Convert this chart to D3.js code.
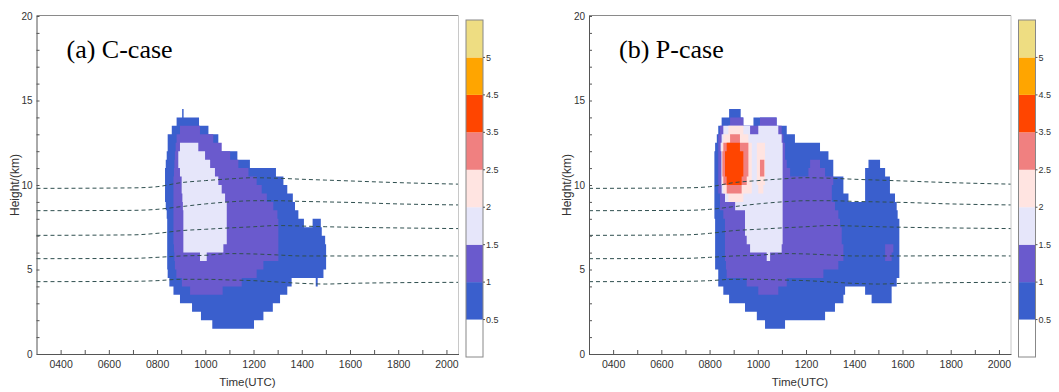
<!DOCTYPE html>
<html>
<head>
<meta charset="utf-8">
<script src="https://cdn.jsdelivr.net/npm/d3@7/dist/d3.min.js"></script>
<style>
  body { margin: 0; background: #fff; }
  svg { display: block; font-family: "Liberation Sans", Arial, sans-serif; }
</style>
</head>
<body>
<svg id="chart" width="1059" height="392"></svg>
<script>
// contour levels of the colour bar (lowest band is white)
const levelValues = [0.5, 1, 1.5, 2, 2.5, 3.5, 4.5, 5];
const levelColors = ["#ffffff", "#3a5fcd", "#6a5acd", "#e6e6fa", "#ffe4e1", "#f08080", "#ff4500", "#ffa500", "#eedd82"];

const timeTicks = [4, 5, 6, 7, 8, 9, 10, 11, 12, 13, 14, 15, 16, 17, 18, 19, 20];
const timeLabels = ["0400", "", "0600", "", "0800", "", "1000", "", "1200", "", "1400", "", "1600", "", "1800", "", "2000"];
const heightTicks = d3.range(0, 21);
const heightLabels = [0, 5, 10, 15, 20];

// filled areas, one row per 0.5 km band: [band bottom (km), start time, end time, (start, end ...)] in hours UTC
// (a) C-case
const aLevel1 = [
  [14.0, 9.04, 9.10],
  [13.5, 8.81, 9.74], [13.0, 8.61, 10.13], [12.5, 8.44, 10.54], [12.0, 8.44, 10.54],
  [11.5, 8.40, 11.33], [11.0, 8.36, 11.85], [10.5, 8.33, 12.93], [10.0, 8.33, 13.24],
  [9.5, 8.33, 13.40], [9.0, 8.33, 13.63], [8.5, 8.36, 13.72], [8.0, 8.40, 13.86],
  [7.5, 8.42, 14.09, 14.45, 14.79], [7.0, 8.42, 14.83], [6.5, 8.42, 14.97], [6.0, 8.42, 15.01],
  [5.5, 8.42, 15.01], [5.0, 8.42, 15.01], [4.5, 8.44, 14.90], [4.0, 8.51, 13.58, 14.58, 14.66],
  [3.5, 8.68, 13.40], [3.0, 8.95, 13.10], [2.5, 9.45, 12.80], [2.0, 9.82, 12.41], [1.5, 10.29, 12.02]
];
const aLevel2 = [
  [13.0, 8.95, 9.78], [12.5, 8.81, 10.33], [12.0, 8.77, 10.68], [11.5, 8.74, 11.03],
  [11.0, 8.72, 11.37], [10.5, 8.70, 11.79], [10.0, 8.68, 12.13], [9.5, 8.68, 12.34],
  [9.0, 8.68, 12.55], [8.5, 8.68, 12.82], [8.0, 8.68, 12.99], [7.5, 8.68, 13.03],
  [7.0, 8.68, 13.03], [6.5, 8.68, 13.03], [6.0, 8.70, 13.03], [5.5, 8.72, 13.03],
  [5.0, 8.74, 12.41], [4.5, 8.80, 12.13], [4.0, 9.03, 11.51], [3.5, 9.37, 10.72]
];
const aLevel3 = [
  [12.0, 8.95, 9.71], [11.5, 8.88, 9.99], [11.0, 8.88, 10.20], [10.5, 8.95, 10.40],
  [10.0, 9.02, 10.54], [9.5, 9.02, 10.68], [9.0, 9.05, 10.82], [8.5, 9.07, 10.89],
  [8.0, 9.09, 10.89], [7.5, 9.09, 10.89], [7.0, 9.09, 10.89], [6.5, 9.09, 10.89],
  [6.0, 9.09, 10.75], [5.5, 9.78, 10.06]
];

// (b) P-case
const bLevel1 = [
  [14.0, 8.81, 9.29], [13.5, 8.50, 9.40, 9.82, 10.78], [13.0, 8.36, 11.20], [12.5, 8.30, 11.54],
  [12.0, 8.23, 12.58], [11.5, 8.20, 12.93], [11.0, 8.20, 13.13, 14.59, 15.07],
  [10.5, 8.20, 13.13, 14.45, 15.28], [10.0, 8.20, 13.55, 14.45, 15.48], [9.5, 8.20, 13.55, 14.45, 15.48],
  [9.0, 8.20, 13.76, 14.45, 15.69], [8.5, 8.20, 15.76], [8.0, 8.20, 15.80], [7.5, 8.23, 15.87],
  [7.0, 8.23, 15.87], [6.5, 8.23, 15.87], [6.0, 8.23, 15.87], [5.5, 8.23, 15.87],
  [5.0, 8.23, 15.87], [4.5, 8.36, 15.87], [4.0, 8.36, 15.76], [3.5, 8.57, 13.62, 14.45, 15.55],
  [3.0, 8.81, 13.55, 14.72, 15.55], [2.5, 9.47, 13.20], [2.0, 9.96, 12.79], [1.5, 10.30, 11.13]
];
const bLevel2 = [
  [13.5, 8.85, 9.40, 10.09, 10.78], [13.0, 8.43, 10.99], [12.5, 8.36, 11.06], [12.0, 8.36, 11.13],
  [11.5, 8.36, 11.13], [11.0, 8.36, 11.20, 12.17, 12.58], [10.5, 8.36, 11.34, 12.10, 12.79],
  [10.0, 8.36, 13.13], [9.5, 8.36, 13.07], [9.0, 8.43, 13.07], [8.5, 8.43, 13.20],
  [8.0, 8.57, 13.34], [7.5, 8.64, 13.41], [7.0, 8.64, 13.48], [6.5, 8.64, 13.48],
  [6.0, 8.64, 13.55, 15.28, 15.62], [5.5, 8.64, 13.55, 15.28, 15.55], [5.0, 8.68, 13.34],
  [4.5, 8.71, 12.72], [4.0, 9.54, 11.20], [3.5, 10.02, 10.85]
];
const bLevel3 = [
  [13.0, 8.57, 9.68, 10.02, 10.85], [12.5, 8.50, 10.99], [12.0, 8.46, 11.03], [11.5, 8.50, 11.03],
  [11.0, 8.50, 11.03], [10.5, 8.50, 11.03], [10.0, 8.50, 11.03], [9.5, 8.50, 11.03],
  [9.0, 8.64, 11.03], [8.5, 9.06, 11.03], [8.0, 9.47, 11.03], [7.5, 9.47, 11.03],
  [7.0, 9.47, 11.03], [6.5, 9.54, 11.03], [6.0, 9.68, 10.99], [5.5, 10.37, 10.51]
];
const bLevel4 = [
  [13.0, 8.78, 9.40], [12.5, 8.57, 9.61], [12.0, 8.50, 9.75, 9.96, 10.30],
  [11.5, 8.50, 9.75, 9.96, 10.30], [11.0, 8.50, 9.75, 9.96, 10.30], [10.5, 8.50, 9.75, 9.96, 10.30],
  [10.0, 8.50, 9.75, 9.96, 10.30], [9.5, 8.57, 9.75, 10.02, 10.23], [9.0, 8.78, 9.40]
];
const bLevel5 = [
  [12.5, 8.85, 9.26], [12.0, 8.57, 9.61], [11.5, 8.53, 9.61], [11.0, 8.53, 9.61, 10.09, 10.27],
  [10.5, 8.53, 9.61, 10.09, 10.27], [10.0, 8.57, 9.54], [9.5, 8.71, 9.33]
];
const bLevel6 = [
  [12.0, 8.71, 9.26], [11.5, 8.64, 9.40], [11.0, 8.64, 9.40], [10.5, 8.64, 9.40], [10.0, 8.71, 9.33]
];

// dashed isolines (same in both panels), height in km at isoTimes
const isoTimes = [3, 7, 8, 9, 10, 11, 12, 13, 14, 15, 16, 18, 20.5];
const iso1 = [9.80, 9.83, 9.90, 10.14, 10.26, 10.36, 10.43, 10.40, 10.34, 10.29, 10.24, 10.14, 10.05];
const iso2 = [8.48, 8.50, 8.56, 8.72, 8.88, 9.00, 9.07, 9.07, 9.03, 9.00, 8.97, 8.88, 8.82];
const iso3 = [7.02, 7.05, 7.14, 7.30, 7.38, 7.46, 7.53, 7.60, 7.57, 7.53, 7.50, 7.46, 7.42];
const iso4 = [5.64, 5.66, 5.72, 5.80, 5.84, 5.94, 5.92, 5.86, 5.80, 5.80, 5.80, 5.82, 5.80];
const iso5 = [4.28, 4.30, 4.34, 4.42, 4.42, 4.38, 4.34, 4.26, 4.18, 4.14, 4.18, 4.22, 4.24];

const panels = [
  { label: "(a) C-case", dx: 0, layers: [aLevel1, aLevel2, aLevel3] },
  { label: "(b) P-case", dx: 552.5, layers: [bLevel1, bLevel2, bLevel3, bLevel4, bLevel5, bLevel6] }
];

const svg = d3.select("#chart");

function drawPanel(p) {
  const g = svg.append("g").attr("transform", `translate(${p.dx},0)`);
  const x = d3.scaleLinear().domain([3, 20.5]).range([36.5, 458.5]);
  const y = d3.scaleLinear().domain([0, 20]).range([354, 16]);

  // filled bands, lowest level first so higher levels paint over.
  // each level is one path so neighbouring rows don't leave seams
  p.layers.forEach((rows, i) => {
    const path = d3.path();
    rows.forEach(r => {
      for (let k = 1; k < r.length; k += 2) {
        path.rect(x(r[k]), y(r[0] + 0.5), x(r[k + 1]) - x(r[k]), y(r[0]) - y(r[0] + 0.5));
      }
    });
    g.append("path").attr("d", path.toString()).attr("fill", levelColors[i + 1]);
  });

  // dashed isolines
  const line = d3.line().x(d => x(d[0])).y(d => y(d[1])).curve(d3.curveMonotoneX);
  [iso1, iso2, iso3, iso4, iso5].forEach(vals => {
    g.append("path")
      .attr("d", line(isoTimes.map((t, j) => [t, vals[j]])))
      .attr("fill", "none")
      .attr("stroke", "#2f4f4f")
      .attr("stroke-width", 1)
      .attr("stroke-dasharray", "4,3");
  });

  // frame top / right
  g.append("line").attr("x1", 36.5).attr("x2", 458.5).attr("y1", 15.5).attr("y2", 15.5)
    .attr("stroke", "#8a8a8a");
  g.append("line").attr("x1", 458.5).attr("x2", 458.5).attr("y1", 15.5).attr("y2", 354)
    .attr("stroke", "#c8c8c8");

  // axes
  const xAxis = d3.axisBottom(x).tickValues(timeTicks).tickSize(-4).tickSizeOuter(0).tickPadding(7)
    .tickFormat((d, i) => timeLabels[i]);
  const gx = g.append("g").attr("transform", "translate(0,354)").call(xAxis);
  const yAxis = d3.axisLeft(y).tickValues(heightTicks).tickSize(-3).tickSizeOuter(0).tickPadding(4)
    .tickFormat(d => heightLabels.includes(d) ? d : "");
  const gy = g.append("g").attr("transform", "translate(36.5,0)").call(yAxis);
  [gx, gy].forEach(a => {
    a.select(".domain").attr("stroke", "#555");
    a.selectAll(".tick line").attr("stroke", "#555");
    a.selectAll("text").attr("fill", "#333");
  });
  gx.selectAll("text").attr("font-size", 10.5);
  gy.selectAll("text").attr("font-size", 10);

  g.append("text").attr("x", 247.5).attr("y", 386).attr("text-anchor", "middle")
    .attr("font-size", 11.5).attr("fill", "#333").text("Time(UTC)");
  g.append("text").attr("transform", "translate(18.5,185) rotate(-90)").attr("text-anchor", "middle")
    .attr("font-size", 12).attr("fill", "#333").text("Height/(km)");

  // panel title
  g.append("text").attr("x", 66.5).attr("y", 58).attr("font-family", "'Liberation Serif', 'Times New Roman', serif")
    .attr("font-size", 26).attr("fill", "#000").text(p.label);

  // colour bar
  const cb = g.append("g").attr("transform", "translate(466,0)");
  const cy = d3.scaleLinear().domain([0, levelColors.length]).range([357, 20]);
  cb.selectAll("rect").data(levelColors).enter().append("rect")
    .attr("x", 0).attr("width", 17)
    .attr("y", (c, i) => cy(i + 1)).attr("height", (c, i) => cy(i) - cy(i + 1))
    .attr("fill", c => c);
  cb.append("rect").attr("x", 0).attr("y", 20).attr("width", 17).attr("height", 337)
    .attr("fill", "none").attr("stroke", "#888");
  const lab = cb.selectAll("g.lab").data(levelValues).enter().append("g").attr("class", "lab")
    .attr("transform", (v, i) => `translate(17,${cy(i + 1)})`);
  lab.append("line").attr("x1", 0).attr("x2", 2).attr("stroke", "#555");
  lab.append("text").attr("x", 3).attr("dy", "0.35em").attr("font-size", 9).attr("fill", "#333")
    .text(v => v);
}

panels.forEach(drawPanel);
</script>
</body>
</html>
